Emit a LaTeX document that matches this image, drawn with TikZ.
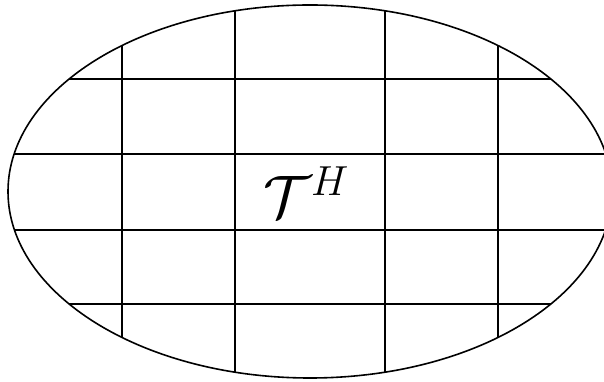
\documentclass[tikz,border=0pt]{standalone}
\usepackage{fix-cm}
\begin{document}
\begin{tikzpicture}[x=1pt,y=1pt,
  gridline/.style={line width=1.6pt},
  outline/.style={line width=1.6pt}]
\useasboundingbox (0,0) rectangle (604,382);
\begin{scope}
  \clip (310,190.5) ellipse [x radius=302, y radius=186.5];
  \foreach \xx in {122,235,385,498}
    \draw[gridline] (\xx,-10) -- (\xx,400);
  \foreach \yy in {303,228,152,78}
    \draw[gridline] (-10,\yy) -- (620,\yy);
\end{scope}
\draw[outline] (310,190.5) ellipse [x radius=302, y radius=186.5];
\node (lbl) at (306,190) {\fontsize{60}{64}\selectfont$\mathcal{T}^H$};
\end{tikzpicture}
\end{document}
